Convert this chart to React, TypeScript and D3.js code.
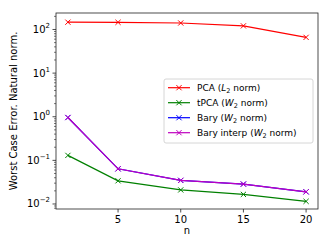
import React from "react";
import * as d3 from "d3";

const nValues = [1, 5, 10, 15, 20];
const pcaL2 = [147, 146, 141, 121, 66];
const tpcaW2 = [0.13, 0.034, 0.021, 0.0166, 0.0115];
const baryW2 = [0.96, 0.064, 0.0347, 0.0286, 0.019];
const baryInterpW2 = [0.96, 0.064, 0.0347, 0.0286, 0.019];
const xTicks = [5, 10, 15, 20];
const yTicksExp = [-2, -1, 0, 1, 2];

const seriesNames = ["PCA", "tPCA", "Bary", "Bary interp"];
const seriesNorms = ["L", "W", "W", "W"];
const seriesColors = ["#ff0000", "#008000", "#0000ff", "#bf00bf"];
const seriesData = [pcaL2, tpcaW2, baryW2, baryInterpW2];

const W = 332;
const H = 249;
const left = 56;
const right = 318;
const top = 13;
const bottom = 209;
const font = "DejaVu Sans, sans-serif";

export default function App() {
  const x = d3.scaleLinear().domain([0.05, 20.95]).range([left, right]);
  const y = d3
    .scaleLog()
    .domain([Math.pow(10, -2.115), Math.pow(10, 2.378)])
    .range([bottom, top]);

  const minorTicks: number[] = [];
  for (let e = -3; e <= 2; e++) {
    for (let m = 2; m <= 9; m++) {
      const v = m * Math.pow(10, e);
      if (v >= y.domain()[0] && v <= y.domain()[1]) minorTicks.push(v);
    }
  }

  const line = d3
    .line<number>()
    .x((_, i) => x(nValues[i]))
    .y((d) => y(d));

  const marker = (cx: number, cy: number, color: string, key: string) => {
    const s = 2.6;
    return (
      <path
        key={key}
        d={`M${cx - s},${cy - s}L${cx + s},${cy + s}M${cx - s},${cy + s}L${cx + s},${cy - s}`}
        stroke={color}
        strokeWidth={1}
        fill="none"
      />
    );
  };

  const legX = 164;
  const legY = 79;
  const legW = 149;
  const legH = 64;

  return (
    <svg width={W} height={H} style={{ display: "block", position: "absolute", left: 0, top: 0 }}>
      <rect x={0} y={0} width={W} height={H} fill="white" />
      {/* series */}
      {seriesData.map((data, si) => (
        <g key={si}>
          <path d={line(data) || ""} stroke={seriesColors[si]} strokeWidth={1.2} fill="none" />
          {data.map((d, i) => marker(x(nValues[i]), y(d), seriesColors[si], `${si}-${i}`))}
        </g>
      ))}
      {/* axes frame */}
      <rect x={left} y={top} width={right - left} height={bottom - top} fill="none" stroke="#222" strokeWidth={0.8} />
      {/* x ticks */}
      {xTicks.map((t) => (
        <g key={t}>
          <line x1={x(t)} x2={x(t)} y1={bottom} y2={bottom + 3.5} stroke="#222" strokeWidth={0.8} />
          <text x={x(t)} y={bottom + 14} textAnchor="middle" fontFamily={font} fontSize={10} fill="#000">
            {t}
          </text>
        </g>
      ))}
      <text x={(left + right) / 2} y={bottom + 25} textAnchor="middle" fontFamily={font} fontSize={10} fill="#000">
        n
      </text>
      {/* y ticks */}
      {minorTicks.map((v, i) => (
        <line key={i} x1={left - 2} x2={left} y1={y(v)} y2={y(v)} stroke="#222" strokeWidth={0.6} />
      ))}
      {yTicksExp.map((e) => {
        const yy = y(Math.pow(10, e));
        return (
          <g key={e}>
            <line x1={left - 3.5} x2={left} y1={yy} y2={yy} stroke="#222" strokeWidth={0.8} />
            <text x={left - 6} y={yy + 3.5} textAnchor="end" fontFamily={font} fontSize={10} fill="#000">
              10
              <tspan fontSize={7} dy={-5}>
                {e < 0 ? `\u2212${-e}` : `${e}`}
              </tspan>
            </text>
          </g>
        );
      })}
      <text
        transform={`translate(17,${(top + bottom) / 2}) rotate(-90)`}
        textAnchor="middle"
        fontFamily={font}
        fontSize={10}
        fill="#000"
      >
        Worst Case Error. Natural norm.
      </text>
      {/* legend */}
      <rect x={legX} y={legY} width={legW} height={legH} rx={2} fill="white" fillOpacity={0.8} stroke="#ccc" strokeWidth={0.8} />
      {seriesNames.map((name, i) => {
        const ly = 87.7 + i * 15;
        return (
          <g key={name}>
            <line x1={168} x2={190} y1={ly} y2={ly} stroke={seriesColors[i]} strokeWidth={1.2} />
            {marker(179, ly, seriesColors[i], `leg${i}`)}
            <text x={197} y={ly + 3.3} fontFamily={font} fontSize={9} fill="#000">
              {name} (
              <tspan fontStyle="italic">{seriesNorms[i]}</tspan>
              <tspan fontSize={6.5} dy={2}>2</tspan>
              <tspan dy={-2}> norm)</tspan>
            </text>
          </g>
        );
      })}
    </svg>
  );
}
